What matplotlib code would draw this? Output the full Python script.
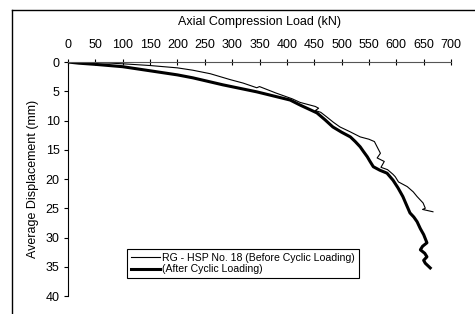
import matplotlib
matplotlib.use("Agg")
import matplotlib.pyplot as plt
from matplotlib.lines import Line2D

plt.rcParams['font.family'] = ['Liberation Sans', 'DejaVu Sans']

# Before cyclic loading (thin line): load (kN), displacement (mm)
before_load = [0, 20, 50, 80, 108, 150, 200, 228, 260, 296, 320, 345, 350, 380,
               410, 424, 440, 452, 458, 452, 462, 473, 485, 497, 515, 534, 550,
               560, 566, 571, 565, 578, 572, 584, 594, 598, 604, 612, 620, 631,
               638, 649, 653, 648, 667]
before_disp = [0, 0.05, 0.1, 0.2, 0.35, 0.6, 1.0, 1.4, 2.0, 3.0, 3.6, 4.4, 4.2,
               5.3, 6.3, 6.9, 7.3, 7.6, 7.9, 8.3, 8.6, 9.4, 10.3, 11.1, 11.9,
               12.8, 13.2, 13.6, 14.7, 15.6, 16.4, 17.0, 18.0, 18.4, 19.2, 19.6,
               20.5, 20.9, 21.3, 22.2, 23.0, 24.1, 25.0, 25.2, 25.6]

# After cyclic loading (thick line)
after_load = [0, 20, 50, 100, 150, 200, 228, 283, 345, 406, 424, 455, 470, 484,
              500, 516, 525, 534, 540, 547, 552, 558, 570, 583, 594, 603, 612,
              618, 625, 632, 638, 644, 650, 656, 648, 644, 652, 656, 650, 653, 662]
after_disp = [0, 0.2, 0.4, 0.8, 1.5, 2.2, 2.7, 3.9, 5.1, 6.5, 7.35, 8.7, 9.9,
              11.1, 12.0, 12.8, 13.6, 14.5, 15.3, 16.2, 17.0, 17.9, 18.5, 19.0,
              20.2, 21.5, 23.0, 24.3, 25.8, 26.5, 27.3, 28.5, 29.5, 30.9, 31.5,
              32.1, 32.7, 33.3, 33.9, 34.4, 35.2]

x_ticks = list(range(0, 701, 50))
y_ticks = list(range(0, 41, 5))

fig = plt.figure(figsize=(4.75, 3.14), dpi=100)
ax = fig.add_axes([0.1432, 0.0573, 0.8063, 0.7452])

ax.plot(before_load, before_disp, color='black', lw=0.8,
        label='RG - HSP No. 18 (Before Cyclic Loading)')
ax.plot(after_load, after_disp, color='black', lw=2.2,
        label='(After Cyclic Loading)')

ax.set_xlim(0, 700)
ax.set_ylim(40, 0)
ax.set_xticks(x_ticks)
ax.set_yticks(y_ticks)

ax.xaxis.tick_top()
ax.xaxis.set_label_position('top')
ax.set_xlabel('Axial Compression Load (kN)', fontsize=9, labelpad=10)
ax.set_ylabel('Average Displacement (mm)', fontsize=9, labelpad=5)

ax.spines['right'].set_visible(False)
ax.spines['bottom'].set_visible(False)
ax.spines['top'].set_color('#555555')
ax.spines['left'].set_color('black')
ax.tick_params(axis='x', direction='inout', length=4, labelsize=9, pad=6,
               color='black')
ax.tick_params(axis='y', direction='out', length=3, labelsize=9, pad=3)

leg = ax.legend(loc='upper left', bbox_to_anchor=(0.154, 0.201),
                borderaxespad=0, fontsize=7.6, handlelength=2.8,
                handletextpad=0.2, borderpad=0.35, labelspacing=0.15,
                fancybox=False, framealpha=1)
leg.get_frame().set_edgecolor('black')
leg.get_frame().set_linewidth(0.8)

# chart area border (left and top edges visible)
fig.add_artist(Line2D([12 / 475, 12 / 475], [0, 1 - 10 / 314],
                      color='black', lw=1))
fig.add_artist(Line2D([12 / 475, 1], [1 - 10 / 314, 1 - 10 / 314],
                      color='black', lw=1))

fig.savefig('out.png', dpi=100)
